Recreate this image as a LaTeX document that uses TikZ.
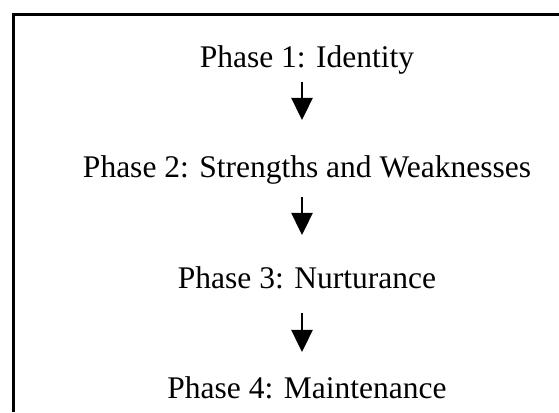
\documentclass[tikz,border=0pt]{standalone}
\usepackage{fontspec}
\setmainfont{Liberation Serif}
\usetikzlibrary{arrows.meta}
\tikzset{
  phase/.style={anchor=base, inner sep=0pt, font=\fontsize{31.5}{36}\selectfont},
  flow/.style={line width=2.4pt, -{Triangle[length=22pt,width=21pt]}},
  frame/.style={line width=3pt, line join=miter}
}
\begin{document}
\begin{tikzpicture}[x=1pt,y=1pt]
\useasboundingbox (0,0) rectangle (559,412);
\draw[frame] (13.5,0) -- (13.5,397) -- (559,397);
\node[phase] (p1) at (307,344) {Phase 1: Identity};
\node[phase] (p2) at (307,234) {Phase 2: Strengths and Weaknesses};
\node[phase] (p3) at (307,123) {Phase 3: Nurturance};
\node[phase] (p4) at (307,13) {Phase 4: Maintenance};
\coordinate (a1s) at (302,330);
\coordinate (a1e) at (302,292);
\coordinate (a2s) at (302,215);
\coordinate (a2e) at (302,177);
\coordinate (a3s) at (302,99);
\coordinate (a3e) at (302,60);
\draw[flow] (a1s) -- (a1e);
\draw[flow] (a2s) -- (a2e);
\draw[flow] (a3s) -- (a3e);
\end{tikzpicture}
\end{document}
